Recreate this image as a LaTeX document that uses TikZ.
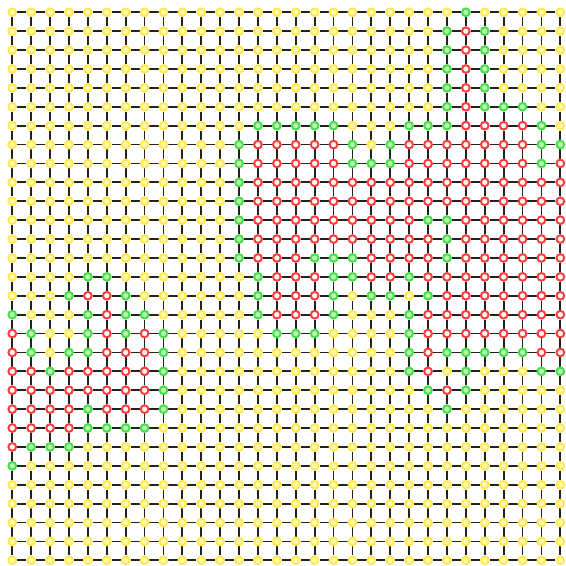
\documentclass[tikz,border=0pt]{standalone}
\usetikzlibrary{backgrounds}

\definecolor{freeline}{HTML}{FFEA50}
\definecolor{freefill}{HTML}{FFF8B8}
\definecolor{frontline}{HTML}{44E044}
\definecolor{frontfill}{HTML}{BDF2B8}
\definecolor{takenline}{HTML}{FF3C3C}
\definecolor{linkgray}{HTML}{222222}

\tikzset{
  dot/.style={circle, inner sep=0pt, minimum size=5.8pt, line width=1.5pt},
  stY/.style={draw=freeline, fill=freefill},
  stG/.style={draw=frontline, fill=frontfill},
  stR/.style={draw=takenline, fill=white},
  link/.style={line width=1.35pt, draw=linkgray},
}

% one letter per site: Y free, G front, R taken
\newcount\colno
\def\siterow#1{\colno=0 \siteloop#1\relax}
\def\siteloop#1{%
  \ifx#1\relax\else
    \edef\cc{\the\colno}%
    \node[dot, st#1] (n-\r-\cc) at (\cc,\r) {};%
    \advance\colno by 1
    \expandafter\siteloop
  \fi}

\begin{document}
\begin{tikzpicture}[x=5mm, y=-5mm]
  \useasboundingbox (-0.65,-0.65) rectangle (29.3,29.3);

  \foreach \codes [count=\r from 0] in {
    YYYYYYYYYY YYYYYYYYYY YYYYGYYYYY,
    YYYYYYYYYY YYYYYYYYYY YYYGRGYYYY,
    YYYYYYYYYY YYYYYYYYYY YYYGRGYYYY,
    YYYYYYYYYY YYYYYYYYYY YYYGRGYYYY,
    YYYYYYYYYY YYYYYYYYYY YYYGRGYYYY,
    YYYYYYYYYY YYYYYYYYYY YYYGRGGGYY,
    YYYYYYYYYY YYYGGGGGYY YGGGRRRRGY,
    YYYYYYYYYY YYGRRRRRGY GRRRRRRRGG,
    YYYYYYYYYY YYGRRRRRGG GRRRRRRRGR,
    YYYYYYYYYY YYGRRRRRRR RRRRRRRRRR,
    YYYYYYYYYY YYGRRRRRRR RRRRRRRRRR,
    YYYYYYYYYY YYGRRRRRRR RRGGRRRRRR,
    YYYYYYYYYY YYGRRRRRRR RRRGRRRRRR,
    YYYYYYYYYY YYGRRRGGGR RRRGRRRRRR,
    YYYYGGYYYY YYYGRRRGGR RGRRRRRRRR,
    YYYGRRGYYY YYYGRRRGYG GYGRRRRRRR,
    GYYYGRGGYY YYYGRRRGYY YGRRRRRRRR,
    RGYYGRGRGY YYYYGGGYYY YGRRRRRRRR,
    RGYGGRRRGY YYYYYYYYYY YGRGGGGGRR,
    RRGRRRRRGY YYYYYYYYYY YGRYGYYYGG,
    RRRRRRRRGY YYYYYYYYYY YYGRGYYYYY,
    RRRRGRRRGY YYYYYYYYYY YYYGYYYYYY,
    RRRRGGGGYY YYYYYYYYYY YYYYYYYYYY,
    RGGGYYYYYY YYYYYYYYYY YYYYYYYYYY,
    GYYYYYYYYY YYYYYYYYYY YYYYYYYYYY,
    YYYYYYYYYY YYYYYYYYYY YYYYYYYYYY,
    YYYYYYYYYY YYYYYYYYYY YYYYYYYYYY,
    YYYYYYYYYY YYYYYYYYYY YYYYYYYYYY,
    YYYYYYYYYY YYYYYYYYYY YYYYYYYYYY,
    YYYYYYYYYY YYYYYYYYYY YYYYYYYYYY} {
    \expandafter\siterow\expandafter{\codes}
  }

  \begin{scope}[on background layer]
    \foreach \r in {0,...,29} {
      \foreach \c [evaluate=\c as \cn using int(\c+1)] in {0,...,28} {
        \draw[link] (n-\r-\c) -- (n-\r-\cn);
        \draw[link] (n-\c-\r) -- (n-\cn-\r);
      }
    }
  \end{scope}
\end{tikzpicture}
\end{document}
